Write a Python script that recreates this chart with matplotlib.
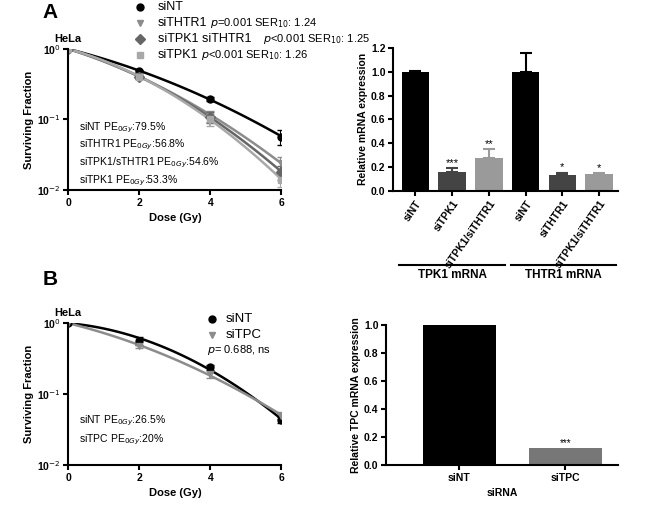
import numpy as np
import matplotlib.pyplot as plt

plt.rcParams['font.family'] = ['Liberation Sans', 'DejaVu Sans']

dose = [0, 2, 4, 6]

# panel A survival
a_names = ['siNT', 'siTHTR1', 'siTPK1 siTHTR1', 'siTPK1']
a_sf = [[1.0, 0.48, 0.195, 0.057],
        [1.0, 0.42, 0.112, 0.024],
        [1.0, 0.40, 0.108, 0.018],
        [1.0, 0.40, 0.100, 0.014]]
a_err = [[0, 0.03, 0.01, 0.013],
         [0, 0.03, 0.02, 0.005],
         [0, 0.03, 0.02, 0.004],
         [0, 0.03, 0.02, 0.003]]
a_extra = ['', r'$p$=0.001 SER$_{10}$: 1.24', r'$p$<0.001 SER$_{10}$: 1.25', r'$p$<0.001 SER$_{10}$: 1.26']
a_pe = ['siNT PE$_{0Gy}$:79.5%', 'siTHTR1 PE$_{0Gy}$:56.8%',
        'siTPK1/sTHTR1 PE$_{0Gy}$:54.6%', 'siTPK1 PE$_{0Gy}$:53.3%']

# panel A bars
bar_labels = ['siNT', 'siTPK1', 'siTPK1/siTHTR1', 'siNT', 'siTHTR1', 'siTPK1/siTHTR1']
bar_vals = [1.0, 0.16, 0.28, 1.0, 0.13, 0.14]
bar_err = [0.005, 0.03, 0.07, 0.155, 0.02, 0.008]
bar_stars = ['', '***', '**', '', '*', '*']
groups = ['TPK1 mRNA', 'THTR1 mRNA']

# panel B
b_names = ['siNT', 'siTPC']
b_sf = [[1.0, 0.56, 0.24, 0.043],
        [1.0, 0.47, 0.19, 0.050]]
b_err = [[0, 0.07, 0.02, 0.004],
         [0, 0.03, 0.02, 0.006]]
b_pe = ['siNT PE$_{0Gy}$:26.5%', 'siTPC PE$_{0Gy}$:20%']
tpc_labels = ['siNT', 'siTPC']
tpc_vals = [1.0, 0.12]

styles = [('black', 'o'), ('#8c8c8c', 'v'), ('#666666', 'D'), ('#a8a8a8', 's')]


def lq_curve(ax, sf, color):
    d = np.array(dose, float)
    y = np.log(np.array(sf))
    A = np.vstack([d, d ** 2]).T
    coef = np.linalg.lstsq(A, y, rcond=None)[0]
    xx = np.linspace(0, 6, 100)
    ax.plot(xx, np.exp(coef[0] * xx + coef[1] * xx ** 2), color=color, lw=1.8)


def survival_axes(ax):
    ax.set_yscale('log')
    ax.set_ylim(0.01, 1.0)
    ax.set_xlim(0, 6)
    ax.set_xticks([0, 2, 4, 6])
    ax.set_yticks([1, 0.1, 0.01])
    ax.set_yticklabels(['10$^{0}$', '10$^{-1}$', '10$^{-2}$'])
    ax.minorticks_off()
    for s in ['top', 'right']:
        ax.spines[s].set_visible(False)
    for s in ['left', 'bottom']:
        ax.spines[s].set_linewidth(1.5)
    ax.tick_params(labelsize=7.5, width=1.5, pad=2)
    for t in ax.get_xticklabels() + ax.get_yticklabels():
        t.set_fontweight('bold')
    ax.set_xlabel('Dose (Gy)', fontsize=8, fontweight='bold')
    ax.set_ylabel('Surviving Fraction', fontsize=8, fontweight='bold', labelpad=2)
    ax.text(-0.065, 1.05, 'HeLa', fontsize=8, fontweight='bold', transform=ax.transAxes)


def bar_axes(ax):
    for s in ['top', 'right']:
        ax.spines[s].set_visible(False)
    for s in ['left', 'bottom']:
        ax.spines[s].set_linewidth(1.5)
    ax.tick_params(labelsize=7.5, width=1.5, pad=2)


fig = plt.figure(figsize=(6.5, 5.05), dpi=100)

# A survival
ax1 = fig.add_axes([0.105, 0.624, 0.328, 0.279])
for sf, er, (c, m) in zip(a_sf, a_err, styles):
    lq_curve(ax1, sf, c)
    ax1.errorbar(dose, sf, yerr=er, fmt=m, color=c, ms=5, capsize=3, elinewidth=1.5, ls='none')
survival_axes(ax1)
ax1.text(0.3, 0.0125, '\n'.join(a_pe), fontsize=7.5, linespacing=1.35)
for i, (nm, ex, (c, m)) in enumerate(zip(a_names, a_extra, styles)):
    y = 1 - (7 + i * 16) / 505
    t = fig.text(0.243, y, nm, fontsize=9, va='center')
    fig.lines.append(plt.Line2D([0.215], [y], marker=m, color=c, ms=5, transform=fig.transFigure))
    if ex:
        fig.text(0, 0, '')
        ax1.annotate(ex, xy=(1, 0.5), xycoords=t, xytext=(2 if i != 2 else 8, 0),
                     textcoords='offset points', va='center', fontsize=8, annotation_clip=False)
fig.text(0.065, 0.975, 'A', fontsize=15, fontweight='bold', va='center')

# A bars
ax2 = fig.add_axes([0.605, 0.622, 0.345, 0.283])
x = np.arange(len(bar_vals))
cols = ['black', '#444444', '#9a9a9a'] * 2
ax2.bar(x, bar_vals, width=0.75, color=cols)
for xi, v, e, c, st in zip(x, bar_vals, bar_err, cols, bar_stars):
    ax2.errorbar([xi], [v], yerr=[[0], [e]], color=c, capsize=4, lw=1.5, capthick=1.5, ls='none')
    if st:
        ax2.text(xi, v + e + 0.005, st, ha='center', va='bottom', fontsize=8)
ax2.set_xlim(-0.6, 5.5)
ax2.set_ylim(0, 1.2)
ax2.set_yticks(np.arange(0, 1.21, 0.2))
ax2.set_yticklabels(['%.1f' % v for v in np.arange(0, 1.21, 0.2)], fontweight='bold')
ax2.set_xticks(x)
ax2.set_xticklabels(bar_labels, rotation=55, ha='right', rotation_mode='anchor',
                    fontsize=6, fontweight='bold')
ax2.set_ylabel('Relative mRNA expression', fontsize=7.5, fontweight='bold', labelpad=2)
bar_axes(ax2)
for g, (a, b) in zip(groups, [(-0.45, 2.45), (2.6, 5.45)]):
    ax2.plot([a, b], [-0.62, -0.62], color='black', lw=1.5, clip_on=False)
    ax2.text((a + b) / 2, -0.66, g, ha='center', va='top', fontsize=8.5, fontweight='bold')

# B survival
ax3 = fig.add_axes([0.105, 0.079, 0.328, 0.281])
for sf, er, (c, m) in zip(b_sf, b_err, styles[:2]):
    lq_curve(ax3, sf, c)
    ax3.errorbar(dose, sf, yerr=er, fmt=m, color=c, ms=5, capsize=3, elinewidth=1.5, ls='none')
survival_axes(ax3)
ax3.text(0.3, 0.021, '\n'.join(b_pe), fontsize=7.5, linespacing=1.5)
for i, (nm, (c, m)) in enumerate(zip(b_names, styles[:2])):
    yv = 1.03 - i * 0.11
    ax3.plot([0.675], [yv], marker=m, color=c, ms=5, transform=ax3.transAxes, clip_on=False)
    ax3.text(0.74, yv, nm, fontsize=9.5, va='center', transform=ax3.transAxes)
ax3.text(0.65, 0.81, r'$p$= 0.688, ns', fontsize=8, va='center', transform=ax3.transAxes)
fig.text(0.065, 0.446, 'B', fontsize=15, fontweight='bold', va='center')

# B bars
ax4 = fig.add_axes([0.594, 0.079, 0.357, 0.277])
xb = np.arange(len(tpc_vals))
ax4.bar(xb, tpc_vals, width=0.69, color=['black', '#777777'])
ax4.text(1, tpc_vals[1] + 0.003, '***', ha='center', va='bottom', fontsize=7)
ax4.set_xlim(-0.69, 1.5)
ax4.set_ylim(0, 1.0)
ax4.set_yticks(np.arange(0, 1.01, 0.2))
ax4.set_yticklabels(['%.1f' % v for v in np.arange(0, 1.01, 0.2)], fontweight='bold')
ax4.set_xticks(xb)
ax4.set_xticklabels(tpc_labels, fontsize=7.5, fontweight='bold')
ax4.set_xlabel('siRNA', fontsize=7.5, fontweight='bold')
ax4.set_ylabel('Relative TPC mRNA expression', fontsize=7.5, fontweight='bold', labelpad=2)
bar_axes(ax4)

fig.savefig('out.png', dpi=100)
